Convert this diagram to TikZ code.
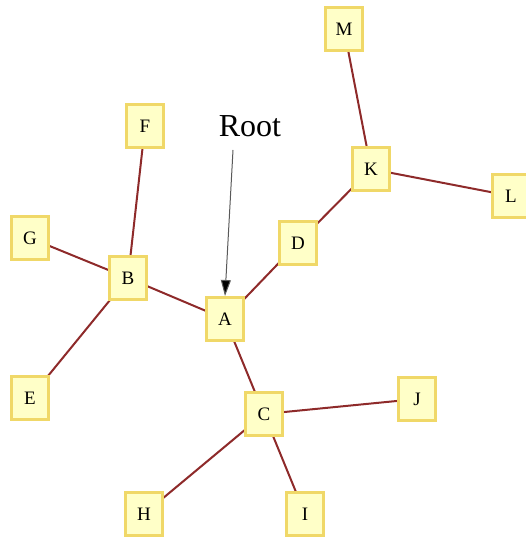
\documentclass[tikz,border=0pt]{standalone}
\usepackage{fontspec}
\setmainfont{Liberation Serif}
\usetikzlibrary{arrows.meta}
\definecolor{boxfill}{HTML}{FFFFC8}
\definecolor{boxline}{HTML}{F0D868}
\definecolor{edgecol}{HTML}{8E2A2A}
\begin{document}
\begin{tikzpicture}[x=1pt,y=-1pt,
  vbox/.style={draw=boxline,fill=boxfill,line width=3pt,minimum width=37pt,minimum height=43pt,inner sep=0pt,font=\fontsize{19}{21}\selectfont},
  edge/.style={draw=edgecol,line width=2pt}]
\useasboundingbox (0,0) rectangle (525,537);
\coordinate (pA) at (225,319);
\coordinate (pB) at (128,278);
\coordinate (pC) at (264,414);
\coordinate (pD) at (298,243);
\coordinate (pE) at (30,398);
\coordinate (pF) at (145,126);
\coordinate (pG) at (30,238);
\coordinate (pH) at (144,514);
\coordinate (pI) at (305,514);
\coordinate (pJ) at (417,399);
\coordinate (pK) at (371,169);
\coordinate (pL) at (511,196);
\coordinate (pM) at (344,29);
\draw[edge] (pA) -- (pB);
\draw[edge] (pA) -- (pC);
\draw[edge] (pA) -- (pD);
\draw[edge] (pB) -- (pE);
\draw[edge] (pB) -- (pF);
\draw[edge] (pB) -- (pG);
\draw[edge] (pC) -- (pH);
\draw[edge] (pC) -- (pI);
\draw[edge] (pC) -- (pJ);
\draw[edge] (pD) -- (pK);
\draw[edge] (pK) -- (pL);
\draw[edge] (pK) -- (pM);
\foreach \n in {A,B,C,D,E,F,G,H,I,J,K,L,M}
  \node[vbox] (\n) at (p\n) {\n};
\node[font=\fontsize{32}{36}\selectfont,inner sep=0pt] (root) at (250,126) {Root};
\coordinate (rs) at (233,150);
\draw[gray!70!black,line width=1pt,-{Triangle[length=16pt,width=10pt,fill=black]}] (rs) -- (A.north);
\end{tikzpicture}
\end{document}
